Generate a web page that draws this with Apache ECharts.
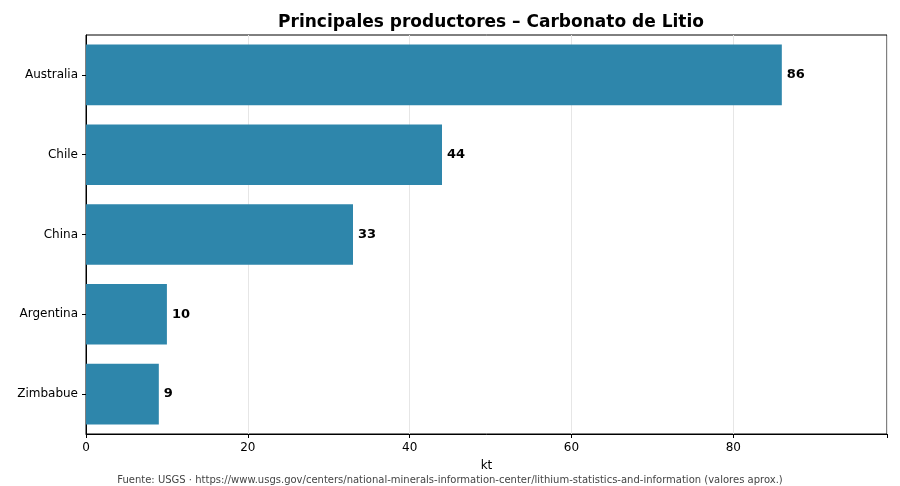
<!DOCTYPE html>
<html><head><meta charset="utf-8">
<script src="https://cdn.jsdelivr.net/npm/echarts@6/dist/echarts.min.js"></script>
<style>html,body{margin:0;padding:0;background:#fff}#c{width:900px;height:486px}</style>
</head><body><div id="c"></div>
<script>
const categories = ["Zimbabue","Argentina","China","Chile","Australia"];
const values = [9,10,33,44,86];
const xTicks = [0,20,40,60,80];
const chart = echarts.init(document.getElementById('c'));
chart.setOption({
  animation:false,
  title:{text:"Principales productores – Carbonato de Litio",left:486,top:9,textAlign:'center',
    textStyle:{fontFamily:'DejaVu Sans',fontSize:17,fontWeight:'bold',color:'#000'}},
  grid:{left:86,right:13,top:35,bottom:52,show:true,borderColor:'#000',borderWidth:1,backgroundColor:'transparent'},
  xAxis:{type:'value',min:0,max:99,interval:20,
    name:'kt',nameLocation:'middle',nameGap:26,nameTextStyle:{fontFamily:'DejaVu Sans',fontSize:12,color:'#000'},
    axisLine:{show:true,lineStyle:{color:'#000'}},axisTick:{show:true,length:4,lineStyle:{color:'#000'}},
    axisLabel:{fontFamily:'DejaVu Sans',fontSize:12,color:'#000',formatter:v=>xTicks.includes(v)?String(v):''},
    splitLine:{show:true,lineStyle:{color:'#e6e6e6'}}},
  yAxis:{type:'category',data:categories,
    axisLine:{show:true,lineStyle:{color:'#000'}},axisTick:{show:true,alignWithLabel:true,length:4,lineStyle:{color:'#000'}},
    axisLabel:{fontFamily:'DejaVu Sans',fontSize:12,color:'#000'}},
  series:[{type:'bar',data:values,barWidth:'76%',itemStyle:{color:'#2e86ab'},
    label:{show:true,position:'right',distance:5,fontFamily:'DejaVu Sans',fontSize:13,fontWeight:'bold',color:'#000'}}],
  graphic:[{type:'text',left:'center',top:475,style:{text:'Fuente: USGS · https://www.usgs.gov/centers/national-minerals-information-center/lithium-statistics-and-information (valores aprox.)',
    fontFamily:'DejaVu Sans',fontSize:10,fill:'#444'}}]
});
</script></body></html>
